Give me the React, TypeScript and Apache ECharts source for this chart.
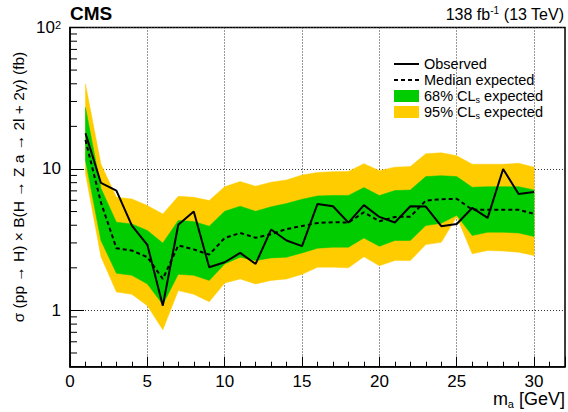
import React, { useEffect, useRef } from "react";
import * as echarts from "echarts";

// m_a values (GeV)
const masses = [1, 2, 3, 4, 5, 6, 7, 8, 9, 10, 11, 12, 13, 14, 15, 16, 17, 18, 19, 20, 21, 22, 23, 24, 25, 26, 27, 28, 29, 30];
// Observed limit (fb)
const observed = [17.9, 7.96, 7.03, 3.98, 2.91, 1.08, 4.03, 5.0, 2.02, 2.19, 2.55, 2.13, 3.73, 3.12, 2.85, 5.66, 5.45, 4.17, 5.55, 4.58, 4.18, 5.45, 5.42, 3.94, 4.08, 5.3, 4.51, 10.0, 6.66, 6.87];
// Median expected limit (fb)
const expected = [16.0, 5.8, 2.75, 2.65, 2.38, 1.67, 2.88, 2.7, 2.48, 3.25, 3.53, 3.26, 3.46, 3.76, 3.95, 4.15, 4.2, 4.18, 4.94, 4.27, 4.58, 4.6, 5.97, 6.11, 6.15, 5.16, 5.14, 5.14, 5.14, 4.81];
// 68% band
const band68Lo = [11.5, 3.12, 1.83, 1.77, 1.54, 1.1, 1.8, 1.77, 1.63, 2.13, 2.38, 2.25, 2.35, 2.38, 2.55, 2.75, 2.8, 2.8, 3.25, 2.84, 3.12, 3.12, 3.98, 4.13, 4.7, 3.38, 3.57, 3.57, 3.53, 3.33];
const band68Hi = [27.2, 7.3, 4.2, 4.09, 3.67, 2.99, 4.32, 4.25, 3.94, 5.02, 5.45, 5.02, 5.4, 5.7, 6.1, 6.45, 6.5, 6.5, 7.38, 6.49, 7.03, 7.1, 8.83, 8.97, 8.83, 7.42, 7.5, 7.5, 7.5, 7.11];
// 95% band
const band95Lo = [9.3, 2.4, 1.35, 1.3, 1.08, 0.73, 1.38, 1.3, 1.15, 1.56, 1.67, 1.54, 1.63, 1.67, 1.8, 2.02, 2.02, 2.0, 2.4, 2.07, 2.25, 2.25, 2.92, 3.03, 4.6, 2.51, 2.65, 2.63, 2.58, 2.44];
const band95Hi = [39.8, 10.8, 6.3, 6.14, 5.51, 4.8, 6.41, 6.31, 5.98, 7.5, 8.14, 7.55, 8.05, 8.36, 9.05, 9.45, 9.57, 9.6, 10.9, 9.73, 10.3, 10.4, 12.8, 13.0, 12.4, 10.8, 10.8, 10.8, 10.96, 10.3];

const xTickLabels = [0, 5, 10, 15, 20, 25, 30];
const yMinorTicks = [0.5, 0.6, 0.7, 0.8, 0.9, 2, 3, 4, 5, 6, 7, 8, 9, 20, 30, 40, 50, 60, 70, 80, 90];

const FONT = '"Liberation Sans", Arial, Helvetica, sans-serif';
const GREEN = "#00cc00";
const YELLOW = "#ffcc00";

function bandSeries(name: string, lo: number[], hi: number[], color: string, z: number) {
  return {
    type: "custom",
    name,
    coordinateSystem: "cartesian2d",
    silent: true,
    z,
    itemStyle: { color },
    data: masses.map((m, i) => [m, lo[i], hi[i]]),
    encode: { x: 0, y: [1, 2] },
    renderItem: (params: any, api: any) => {
      if (params.dataIndex !== 0) return null;
      const pts: number[][] = [];
      for (let i = 0; i < masses.length; i++) pts.push(api.coord([masses[i], hi[i]]));
      for (let i = masses.length - 1; i >= 0; i--) pts.push(api.coord([masses[i], lo[i]]));
      return { type: "polygon", shape: { points: pts }, style: { fill: color, stroke: color, lineWidth: 0.5 } };
    },
  };
}

export default function App() {
  const ref = useRef<HTMLDivElement>(null);
  useEffect(() => {
    const chart = echarts.init(ref.current!, null, { renderer: "svg" });
    const option: any = {
      animation: false,
      backgroundColor: "#fff",
      grid: {
        left: 70,
        top: 27.5,
        right: 0.4,
        bottom: 45.3,
        show: true,
        borderColor: "#000",
        borderWidth: 1.5,
        backgroundColor: "transparent",
      },
      xAxis: {
        type: "value",
        min: 0,
        max: 32,
        interval: 5,
        axisLine: { show: true, lineStyle: { color: "#000", width: 1.5 } },
        axisTick: { show: true, inside: true, length: 10, lineStyle: { color: "#000", width: 1 } },
        minorTick: { show: true, splitNumber: 5, length: 5, lineStyle: { color: "#000", width: 1 } },
        splitLine: { show: true, lineStyle: { color: "#333", type: [1, 2], width: 1 } },
        showMaxLabel: false,
        axisLabel: {
          color: "#000",
          fontSize: 17,
          fontFamily: FONT,
          margin: 6,
          formatter: (v: number) => (xTickLabels.indexOf(v) >= 0 ? String(v) : ""),
        },
      },
      yAxis: {
        type: "log",
        logBase: 10,
        min: 0.4,
        max: 100,
        axisLine: { show: true, lineStyle: { color: "#000", width: 1.5 } },
        axisTick: { show: true, inside: true, length: 14, lineStyle: { color: "#000", width: 1 } },
        splitLine: { show: true, lineStyle: { color: "#333", type: [1, 2], width: 1 } },
        axisLabel: {
          color: "#000",
          fontSize: 17,
          fontFamily: FONT,
          margin: 9,
          formatter: (v: number) => {
            if (Math.abs(v - 100) < 1e-6) return "10{s|2}";
            if (Math.abs(v - 10) < 1e-6) return "10";
            if (Math.abs(v - 1) < 1e-6) return "1";
            return "";
          },
          rich: {
            s: { fontSize: 11, fontFamily: FONT, color: "#000", verticalAlign: "top", lineHeight: 10 },
          },
        },
      },
      legend: {
        orient: "vertical",
        left: 388,
        top: 51,
        itemWidth: 25,
        itemHeight: 12,
        itemGap: 0,
        selectedMode: false,
        data: [
          { name: "Observed", itemStyle: { opacity: 0 }, lineStyle: { color: "#000", width: 2, type: "solid" } },
          { name: "Median expected", itemStyle: { opacity: 0 }, lineStyle: { color: "#000", width: 2, type: [4, 3] } },
          { name: "68% CLs expected", icon: "rect" },
          { name: "95% CLs expected", icon: "rect" },
        ],
        formatter: (name: string) => name.replace("CLs", "CL{s|s}"),
        textStyle: {
          color: "#000",
          fontSize: 14.5,
          fontFamily: FONT,
          lineHeight: 16,
          rich: {
            s: { fontSize: 9, fontFamily: FONT, color: "#000", verticalAlign: "bottom", lineHeight: 9 },
          },
        },
      },
      graphic: [
        {
          type: "text",
          x: 70,
          y: 13,
          style: {
            text: "CMS",
            font: `bold 19px ${FONT}`,
            fill: "#000",
            align: "left",
            verticalAlign: "middle",
            textAlign: "left",
            textVerticalAlign: "middle",
          },
        },
        {
          type: "text",
          x: 564,
          y: 14,
          style: {
            text: "{a|138 fb}{s|-1}{a| (13 TeV)}",
            fill: "#000",
            align: "right",
            verticalAlign: "middle",
            textAlign: "right",
            textVerticalAlign: "middle",
            rich: {
              a: { fontSize: 16, fontFamily: FONT, color: "#000", lineHeight: 18 },
              s: { fontSize: 10, fontFamily: FONT, color: "#000", verticalAlign: "top", lineHeight: 10 },
            },
          },
        },
        {
          type: "text",
          x: 565,
          y: 399,
          style: {
            text: "{a|m}{s|a}{a| [GeV]}",
            fill: "#000",
            align: "right",
            verticalAlign: "middle",
            textAlign: "right",
            textVerticalAlign: "middle",
            rich: {
              a: { fontSize: 18, fontFamily: FONT, color: "#000", lineHeight: 20 },
              s: { fontSize: 11, fontFamily: FONT, color: "#000", verticalAlign: "bottom", lineHeight: 10 },
            },
          },
        },
        {
          type: "text",
          x: 18,
          y: 187,
          rotation: Math.PI / 2,
          style: {
            text: "σ (pp → H) × B(H → Z a → 2l + 2γ) (fb)",
            font: `15.5px ${FONT}`,
            fill: "#000",
            align: "center",
            verticalAlign: "middle",
            textAlign: "center",
            textVerticalAlign: "middle",
          },
        },
      ],
      series: [
        bandSeries("95% CLs expected", band95Lo, band95Hi, YELLOW, 1),
        bandSeries("68% CLs expected", band68Lo, band68Hi, GREEN, 2),
        {
          type: "line",
          name: "Median expected",
          data: masses.map((m, i) => [m, expected[i]]),
          symbol: "none",
          z: 3,
          itemStyle: { color: "#000" },
          lineStyle: { color: "#000", width: 2, type: [4, 3] },
        },
        {
          type: "line",
          name: "Observed",
          data: masses.map((m, i) => [m, observed[i]]),
          symbol: "none",
          z: 4,
          itemStyle: { color: "#000" },
          lineStyle: { color: "#000", width: 2 },
        },
        {
          type: "custom",
          name: "yMinorTicks",
          coordinateSystem: "cartesian2d",
          silent: true,
          z: 5,
          data: yMinorTicks.map((v) => [0, v]),
          renderItem: (params: any, api: any) => {
            const p = api.coord([0, api.value(1)]);
            return {
              type: "line",
              shape: { x1: p[0], y1: p[1], x2: p[0] + 7, y2: p[1] },
              style: { stroke: "#000", lineWidth: 1 },
            };
          },
        },
      ],
    };
    chart.setOption(option);
    return () => chart.dispose();
  }, []);
  return <div ref={ref} style={{ position: "fixed", left: 0, top: 0, width: 568, height: 412 }} />;
}
